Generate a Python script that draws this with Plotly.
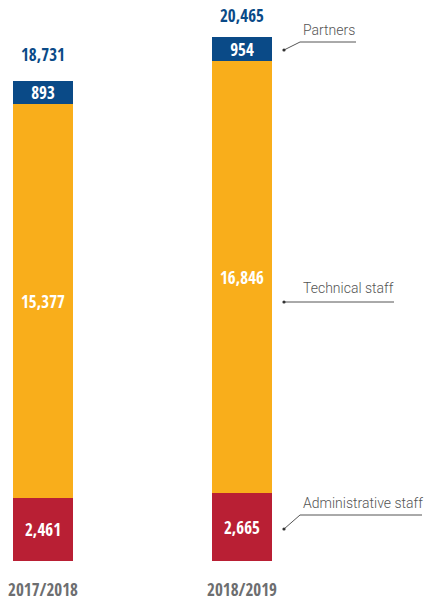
import plotly.graph_objects as go

years = ["2017/2018", "2018/2019"]
admin = [2461, 2665]
technical = [15377, 16846]
partners = [893, 954]
totals = [18731, 20465]
series_names = ["Administrative staff", "Technical staff", "Partners"]

BLUE = "#0a4a87"
YELLOW = "#f9ae1b"
RED = "#b91f34"
COND = "Open Sans Condensed, Roboto Condensed, Roboto, sans-serif"
NUM_SIZE = 17

xpos = [0, 1]
fig = go.Figure()
for name, vals, col in [(series_names[0], admin, RED),
                        (series_names[1], technical, YELLOW),
                        (series_names[2], partners, BLUE)]:
    fig.add_trace(go.Bar(
        x=xpos, y=vals, name=name, marker=dict(color=col, line=dict(width=0)),
        width=0.3015,
        text=[f"{v:,}" for v in vals], textposition="inside",
        insidetextanchor="middle", textangle=0, constraintext="none",
        textfont=dict(family=COND, size=NUM_SIZE, color="white", weight="bold"),
        hoverinfo="skip",
    ))

yshifts = [27, 22]
for x, t, s in zip(xpos, totals, yshifts):
    fig.add_annotation(x=x, y=t, text=f"{t:,}", showarrow=False, yanchor="middle",
                       yshift=s, font=dict(family=COND, size=NUM_SIZE, color=BLUE, weight="bold"))

W, H, B = 426, 601, 40
PH = H - B

def px(x):
    return x / W

def py(y):
    return (PH - y) / PH

LINE = "#555555"
leaders = [
    (series_names[2], [(284, 50), (300, 42), (356, 42)], 30),
    (series_names[1], [(284, 302), (394, 302)], 288),
    (series_names[0], [(284, 529), (300, 515), (422, 515)], 503),
]
for name, pts, ty in leaders:
    for (x0, y0), (x1, y1) in zip(pts[:-1], pts[1:]):
        fig.add_shape(type="line", xref="paper", yref="paper",
                      x0=px(x0), y0=py(y0), x1=px(x1), y1=py(y1),
                      line=dict(color=LINE, width=1))
    dx, dy = pts[0]
    fig.add_shape(type="circle", xref="paper", yref="paper",
                  x0=px(dx - 1.6), x1=px(dx + 1.6), y0=py(dy + 1.6), y1=py(dy - 1.6),
                  fillcolor="#333333", line=dict(width=0))
    fig.add_annotation(xref="paper", yref="paper", x=px(301), y=py(ty), text=name,
                       showarrow=False, xanchor="left", yanchor="middle",
                       font=dict(family="Roboto, DejaVu Sans, sans-serif", size=14, color="#555555", weight=300))

fig.update_layout(
    width=W, height=H, barmode="stack", showlegend=False,
    margin=dict(l=0, r=0, t=0, b=B),
    plot_bgcolor="white", paper_bgcolor="white",
    bargap=0,
    xaxis=dict(range=[-43 / 199, (W - 43) / 199], tickvals=xpos, ticktext=years,
               showgrid=False, zeroline=False, showline=False, automargin=False,
               ticklabeloverflow="allow",
               ticks="outside", ticklen=14, tickcolor="rgba(0,0,0,0)",
               tickfont=dict(family=COND, size=17, color="#6d6e70", weight="bold")),
    yaxis=dict(range=[0, PH / (524 / 20465)], visible=False, showgrid=False, zeroline=False,
               automargin=False),
)

fig.write_html("out.html", config={"displayModeBar": False},
               post_script="document.body.style.margin='0px';")
